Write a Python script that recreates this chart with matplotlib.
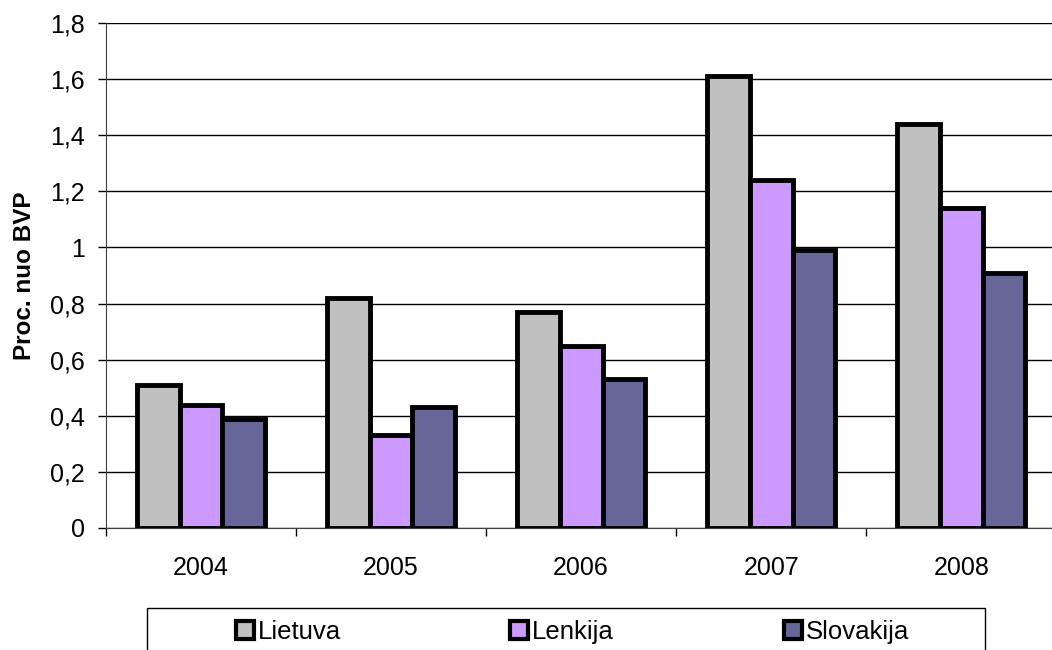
import numpy as np
import matplotlib
matplotlib.use('Agg')
import matplotlib.pyplot as plt
from matplotlib.patches import Rectangle, Patch

plt.rcParams['font.family'] = ['Liberation Sans', 'DejaVu Sans']

years = ['2004', '2005', '2006', '2007', '2008']
series = ['Lietuva', 'Lenkija', 'Slovakija']
lietuva = [0.51, 0.82, 0.77, 1.61, 1.44]
lenkija = [0.44, 0.33, 0.65, 1.24, 1.14]
slovakija = [0.39, 0.43, 0.53, 0.99, 0.91]
colors = ['#C0C0C0', '#CC99FF', '#666699']
yticks = [0, 0.2, 0.4, 0.6, 0.8, 1.0, 1.2, 1.4, 1.6, 1.8]
ylabels = ['0', '0,2', '0,4', '0,6', '0,8', '1', '1,2', '1,4', '1,6', '1,8']

fig = plt.figure(figsize=(10.52, 6.5), dpi=100)
ax = fig.add_axes([0.1008, 0.1877, 0.9032, 0.7769])

x = np.arange(len(years))
w = 0.225
for i, vals in enumerate([lietuva, lenkija, slovakija]):
    ax.bar(x + (i - 1) * w, vals, w, color=colors[i], edgecolor='black',
           linewidth=3.5, label=series[i], zorder=3)

ax.set_xlim(-0.5, len(years) - 0.5)
ax.set_ylim(0, 1.8)
ax.set_yticks(yticks)
ax.set_yticklabels(ylabels)
ax.yaxis.grid(True, color='black', linewidth=1, zorder=0)
ax.set_axisbelow(True)

ax.set_xticks(x)
ax.set_xticklabels(years)
ax.set_xticks(np.arange(-0.5, len(years), 1.0), minor=True)
ax.tick_params(axis='x', which='major', length=0, pad=20, labelsize=18)
ax.tick_params(axis='x', which='minor', length=6, direction='out', width=1)
ax.tick_params(axis='y', length=6, direction='out', width=1, pad=9, labelsize=18)

for s in ['top', 'right']:
    ax.spines[s].set_visible(False)
ax.spines['left'].set_color('#404040')
ax.spines['bottom'].set_color('#404040')

ax.set_ylabel('Proc. nuo BVP', fontsize=17.5, fontweight='bold', labelpad=10)

# legend box
fig.patches.append(Rectangle((147 / 1052, -0.05), (985 - 147) / 1052, 0.05 + 42 / 650,
                             transform=fig.transFigure, facecolor='white',
                             edgecolor='black', linewidth=1))
xs = [236, 510, 784]
for i in range(3):
    fig.legend(handles=[Patch(facecolor=colors[i], edgecolor='black', linewidth=3)],
               labels=[series[i]], loc='center left',
               bbox_to_anchor=(xs[i] / 1052, 18 / 650), frameon=False,
               fontsize=18.5, handlelength=0.7, handleheight=0.7,
               handletextpad=0.15, borderpad=0, borderaxespad=0)

fig.savefig('out.png', dpi=100)
